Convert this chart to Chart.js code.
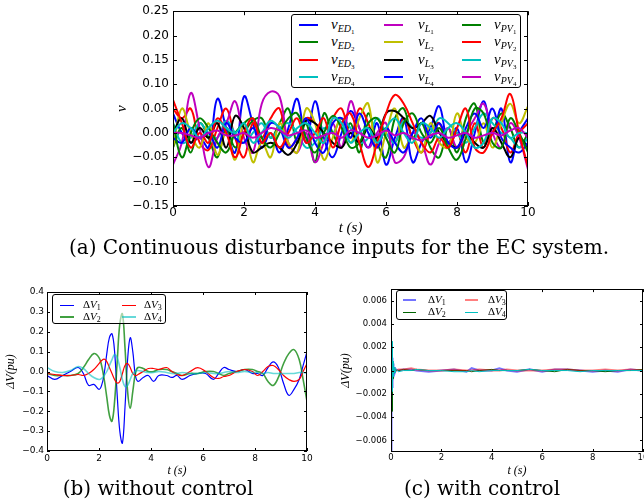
<!DOCTYPE html>
<html>
<head>
<meta charset="utf-8">
<script src="https://cdn.jsdelivr.net/npm/chart.js@4.4.0/dist/chart.umd.min.js"></script>
<style>
html, body { margin: 0; padding: 0; background: #fff; overflow: hidden; }
body { width: 644px; height: 503px; position: relative; }
canvas { position: absolute; }
.lg { position: absolute; border: 1px solid #000; border-radius: 3px; box-sizing: border-box; }
.lg .ln { position: absolute; }
.lg .tx { position: absolute; white-space: nowrap; font-family: 'Liberation Serif', serif; line-height: 16px; }
.s1 { position: relative; top: 4px; font-style: italic; }
.s2 { position: relative; top: 2px; font-style: normal; }
.cap { position: absolute; white-space: nowrap; font-family: 'DejaVu Serif', serif; font-size: 20px; line-height: 22px; transform: translateX(-50%); }
</style>
</head>
<body>
<canvas id="chartA" width="425" height="240" style="left:113px;top:0px"></canvas>
<canvas id="chartB" width="317" height="200" style="left:0px;top:280px"></canvas>
<canvas id="chartC" width="340" height="200" style="left:320px;top:280px"></canvas>
<div class="cap" style="left:339px;top:236px">(a) Continuous disturbance inputs for the EC system.</div>
<div class="cap" style="left:158px;top:477px">(b) without control</div>
<div class="cap" style="left:482px;top:477px">(c) with control</div>
<script>
// (a) 外乱入力
var tA = [0, 0.25, 0.5, 0.75, 1, 1.25, 1.5, 1.75, 2, 2.25,
  2.5, 2.75, 3, 3.25, 3.5, 3.75, 4, 4.25, 4.5, 4.75,
  5, 5.25, 5.5, 5.75, 6, 6.25, 6.5, 6.75, 7, 7.25,
  7.5, 7.75, 8, 8.25, 8.5, 8.75, 9, 9.25, 9.5, 9.75, 10];
var namesA = ['ED1', 'ED2', 'ED3', 'ED4', 'L1', 'L2', 'L3', 'L4', 'PV1', 'PV2', 'PV3', 'PV4'];
var colorsA = ['#0000ff', '#008000', '#ff0000', '#00bfbf', '#bf00bf', '#bfbf00', '#000000', '#0000ff', '#008000', '#ff0000', '#00bfbf', '#bf00bf'];

var vED1 = [0.04, 0.0, -0.02, -0.01, -0.03, 0.07, 0.01, -0.04, 0.075, 0.02,
  -0.03, 0.0, -0.04, 0.01, 0.07, -0.02, 0.065, -0.01, -0.05, 0.0,
  0.045, 0.01, -0.03, 0.02, -0.065, -0.01, 0.03, -0.06, -0.02, 0.01,
  0.055, -0.02, 0.01, -0.06, 0.0, 0.065, 0.0, 0.05, -0.06, 0.0, 0.03];
var vED2 = [-0.03, 0.01, -0.04, 0.02, -0.01, -0.05, 0.01, -0.03, 0.0, 0.025,
  0.03, -0.01, 0.02, 0.05, -0.02, 0.02, -0.06, 0.04, 0.0, -0.03,
  0.02, -0.04, 0.04, -0.02, -0.05, 0.03, 0.05, -0.01, 0.02, -0.03,
  -0.05, 0.01, -0.04, 0.03, 0.06, -0.02, 0.0, 0.04, 0.01, -0.03, 0.0];
var vED3 = [0.05, 0.03, 0.05, -0.02, -0.035, 0.01, 0.05, -0.01, -0.05, 0.02,
  -0.01, 0.03, 0.05, -0.03, -0.01, 0.03, 0.02, -0.02, 0.03, 0.05,
  -0.01, 0.05, 0.02, -0.03, 0.01, -0.02, 0.03, -0.01, -0.04, 0.0,
  0.02, -0.03, 0.0, -0.04, 0.02, -0.03, 0.03, 0.01, -0.04, 0.0, 0.02];
var vED4 = [0.02, -0.02, -0.01, 0.02, 0.0, -0.01, 0.025, 0.0, -0.02, 0.0,
  0.02, -0.01, 0.01, 0.02, 0.0, -0.03, -0.02, 0.01, 0.0, 0.03,
  0.01, -0.02, -0.01, 0.03, 0.0, -0.02, 0.025, 0.01, -0.01, 0.0,
  0.03, 0.02, 0.0, -0.02, 0.01, 0.04, 0.02, 0.0, -0.01, -0.03, -0.01];
var vL1 = [-0.065, -0.02, 0.082, 0.01, -0.07, -0.01, 0.02, 0.065, -0.01, -0.04,
  0.06, 0.085, 0.075, -0.02, -0.04, 0.0, -0.06, -0.02, 0.02, -0.03,
  0.065, 0.01, -0.03, 0.0, 0.02, -0.06, -0.05, 0.0, -0.02, -0.065,
  -0.02, 0.01, -0.03, 0.0, 0.03, 0.06, 0.0, -0.03, 0.02, -0.01, -0.075];
var vL2 = [-0.03, 0.05, 0.0, -0.03, 0.02, -0.045, 0.0, -0.055, 0.02, -0.06,
  -0.02, -0.05, 0.02, -0.02, -0.04, 0.05, 0.02, -0.055, -0.01, 0.03,
  -0.02, 0.03, 0.06, -0.06, 0.0, 0.05, -0.03, -0.01, -0.04, 0.02,
  -0.02, -0.03, 0.04, -0.01, -0.02, 0.02, -0.03, 0.02, 0.06, 0.02, 0.055];
var vL3 = [0.0, 0.03, -0.02, 0.01, -0.01, 0.02, -0.03, 0.035, 0.01, -0.04,
  -0.03, -0.02, -0.03, -0.045, -0.02, 0.025, 0.02, 0.0, -0.02, -0.03,
  0.0, -0.02, 0.01, -0.01, 0.04, 0.045, 0.03, 0.01, 0.02, 0.035,
  0.0, -0.02, -0.03, 0.0, -0.02, -0.03, 0.01, -0.02, -0.05, -0.01, -0.03];
var vL4 = [-0.01, -0.02, 0.01, -0.01, 0.0, -0.03, 0.02, -0.01, -0.02, 0.01,
  -0.02, 0.02, 0.01, -0.03, -0.01, 0.03, -0.02, -0.04, 0.02, 0.03,
  -0.01, 0.04, 0.0, -0.03, 0.01, -0.02, -0.04, 0.0, 0.03, -0.01,
  0.02, -0.02, -0.03, 0.01, 0.04, 0.01, 0.05, -0.01, -0.03, -0.04, -0.02];
var vPV1 = [0.02, -0.05, 0.0, 0.03, 0.01, -0.02, -0.04, 0.0, 0.02, 0.03,
  -0.01, -0.03, 0.0, 0.03, 0.04, -0.01, -0.04, 0.0, 0.035, 0.01,
  -0.03, -0.02, 0.02, 0.03, -0.01, -0.04, 0.02, 0.04, 0.0, -0.02,
  0.01, -0.03, -0.055, -0.01, 0.05, 0.04, -0.02, -0.03, 0.03, 0.0, -0.04];
var vPV2 = [0.068, 0.02, -0.03, 0.0, -0.02, 0.03, 0.0, -0.05, 0.0, 0.03,
  -0.02, 0.0, -0.03, 0.0, 0.03, -0.02, 0.0, 0.03, -0.03, 0.02,
  0.04, -0.02, -0.07, -0.02, 0.04, 0.078, 0.06, 0.02, -0.02, -0.04,
  -0.01, -0.03, 0.01, 0.05, -0.03, -0.04, 0.0, 0.03, 0.08, 0.0, -0.07];
var vPV3 = [0.0, 0.02, 0.01, -0.01, 0.01, 0.025, 0.01, 0.0, 0.02, -0.02,
  0.0, 0.025, 0.01, -0.01, 0.01, 0.02, 0.0, -0.02, 0.03, 0.02,
  -0.02, 0.0, 0.01, -0.02, 0.01, 0.03, 0.0, -0.02, 0.02, 0.01,
  -0.01, 0.01, 0.02, 0.0, -0.03, -0.02, 0.03, 0.02, -0.01, 0.0, 0.0];
var vPV4 = [0.0, 0.0, -0.005, -0.01, 0.0, 0.005, -0.005, -0.005, 0.0, -0.01,
  0.0, 0.01, 0.005, -0.005, 0.0, 0.005, -0.01, -0.005, 0.0, -0.01,
  0.005, 0.0, -0.01, -0.005, 0.005, -0.005, 0.0, -0.01, -0.015, -0.005,
  0.0, -0.01, -0.005, 0.0, -0.01, -0.005, 0.0, -0.005, 0.005, 0.01, -0.01];
var seriesA = [vED1, vED2, vED3, vED4, vL1, vL2, vL3, vL4, vPV1, vPV2, vPV3, vPV4];
var xTicksA = [0, 2, 4, 6, 8, 10];
var yTicksA = [-0.15, -0.10, -0.05, 0.00, 0.05, 0.10, 0.15, 0.20, 0.25];

// (b) 制御なし
var tB = [0, 0.3, 0.6, 0.9, 1.2, 1.4, 1.6, 1.8, 2.0, 2.1,
  2.2, 2.3, 2.4, 2.5, 2.6, 2.7, 2.8, 2.9, 3.0, 3.1,
  3.2, 3.3, 3.4, 3.5, 3.7, 3.9, 4.1, 4.3, 4.6, 4.8,
  5.0, 5.2, 5.5, 5.8, 6.1, 6.4, 6.6, 6.8, 7.0, 7.3,
  7.6, 7.9, 8.1, 8.3, 8.5, 8.7, 8.9, 9.1, 9.3, 9.5,
  9.7, 9.85, 10];
var dV1 = [-0.02, -0.04, -0.02, 0.0, 0.02, -0.01, -0.07, -0.065, -0.09, -0.07,
  -0.01, 0.09, 0.17, 0.19, 0.1, -0.12, -0.3, -0.36, -0.18, 0.06,
  0.17, 0.1, -0.02, -0.05, -0.03, -0.02, -0.05, -0.02, -0.02, -0.03,
  -0.02, -0.04, -0.02, -0.01, -0.01, -0.04, -0.01, 0.02, 0.01, 0.0,
  0.01, -0.01, -0.01, -0.02, 0.02, 0.048, 0.02, -0.06, -0.12, -0.09,
  -0.04, 0.03, 0.1];
var dV2 = [-0.01, -0.02, -0.02, -0.02, -0.01, 0.02, 0.06, 0.09, 0.07, 0.03,
  -0.04, -0.13, -0.22, -0.25, -0.15, 0.05, 0.24, 0.29, 0.12, -0.1,
  -0.185, -0.1, -0.01, 0.02, 0.015, 0.0, 0.0, 0.01, 0.01, 0.0,
  -0.01, -0.02, -0.01, -0.01, 0.0, 0.0, -0.01, -0.02, -0.01, 0.0,
  0.01, 0.01, 0.0, -0.01, -0.05, -0.07, -0.03, 0.04, 0.09, 0.11,
  0.06, -0.04, -0.15];
var dV3 = [-0.01, -0.015, -0.02, -0.02, -0.015, -0.02, -0.01, 0.01, 0.04, 0.055,
  0.062, 0.05, 0.02, -0.01, -0.04, -0.058, -0.05, -0.01, 0.03, 0.04,
  0.02, -0.01, -0.02, -0.015, 0.0, 0.015, 0.015, 0.01, 0.02, 0.0,
  -0.015, -0.02, 0.0, 0.02, 0.0, -0.03, -0.035, -0.025, -0.02, 0.0,
  0.01, 0.0, -0.02, 0.0, 0.025, 0.03, 0.01, -0.02, -0.04, -0.05,
  -0.04, 0.0, 0.04];
var dV4 = [0.02, 0.0, -0.005, 0.005, 0.025, 0.015, -0.01, -0.03, -0.04, -0.035,
  -0.02, 0.0, 0.03, 0.06, 0.085, 0.07, 0.02, -0.04, -0.075, -0.07,
  -0.04, -0.01, 0.0, 0.005, 0.0, -0.005, -0.005, 0.0, -0.005, -0.01,
  -0.01, -0.005, -0.01, -0.01, -0.005, -0.01, -0.01, -0.005, 0.0, -0.005,
  0.0, -0.005, -0.005, -0.01, -0.005, -0.01, -0.01, -0.01, -0.01, -0.01,
  -0.005, -0.005, -0.01];
var xTicksB = [0, 2, 4, 6, 8, 10];
var yTicksB = [-0.4, -0.3, -0.2, -0.1, 0.0, 0.1, 0.2, 0.3, 0.4];

// (c) 制御あり
var tC = [0, 0.01, 0.02, 0.03, 0.04, 0.05, 0.06, 0.07, 0.08, 0.1,
  0.12, 0.15, 0.2, 0.3, 0.5, 0.8, 1.0, 1.5, 2.0, 2.5,
  3.0, 3.2, 3.5, 4.0, 4.3, 4.6, 5.0, 5.5, 6.0, 6.5,
  7.0, 7.5, 8.0, 8.5, 9.0, 9.5, 10];
var cV1 = [0.0, -0.007, 0.0012, -0.003, 0.0008, -0.0015, 0.0011, -0.001, 0.0006, -0.0005,
  0.0003, -0.0002, 0.0001, 0.0, 0.0001, 0.0001, 0.0, -0.0001, 0.0, 0.0001,
  -0.0001, 0.0002, 0.0, 0.0, 0.0002, 0.0, -0.0001, 0.0001, -0.0001, 0.0001,
  0.0001, 0.0, -0.0001, 0.0, -0.0001, 0.0001, 0.0];
var cV2 = [0.0, 0.0055, -0.006, 0.003, -0.0035, 0.0015, -0.0015, 0.0008, -0.0007, 0.0003,
  -0.0002, 0.0001, 0.0, 0.0, 0.0001, 0.0, 0.0001, 0.0, 0.0, 0.0,
  0.0, -0.0001, 0.0, 0.0001, 0.0, 0.0, 0.0, 0.0001, 0.0, -0.0001,
  0.0001, 0.0, 0.0, -0.0001, 0.0, 0.0, 0.0001];
var cV3 = [0.0, 0.001, -0.0008, 0.0006, -0.0004, 0.0003, -0.0002, 0.0001, 0.0, 0.0001,
  0.0, 0.0001, 0.0, 0.0001, 0.0001, 0.0002, 0.0001, 0.0, 0.0, 0.0001,
  0.0, 0.0, 0.0001, 0.0, 0.0, 0.0001, 0.0, 0.0, 0.0, 0.0001,
  0.0001, 0.0, 0.0, 0.0001, 0.0, 0.0001, 0.0];
var cV4 = [0.0, -0.005, 0.0045, -0.003, 0.0025, -0.0018, 0.0013, -0.001, 0.0008, -0.0005,
  0.0003, -0.0002, 0.0001, -0.0001, 0.0, 0.0, 0.0001, 0.0, 0.0, -0.0001,
  -0.0001, 0.0, -0.0001, 0.0, 0.0, 0.0, 0.0, 0.0001, 0.0, 0.0,
  0.0, -0.0001, 0.0, 0.0, 0.0, 0.0, 0.0];
var xTicksC = [0, 2, 4, 6, 8, 10];
var yTicksC = [-0.006, -0.004, -0.002, 0.0, 0.002, 0.004, 0.006];

var namesB = ['1', '2', '3', '4'];

// 枠と内向きの目盛り (matplotlib classic 風)
var framePlugin = {
  id: 'frame',
  afterDatasetsDraw: function (chart, args, opts) {
    var a = chart.chartArea, ctx = chart.ctx, len = opts.len || 4;
    var sx = chart.scales.x, sy = chart.scales.y;
    ctx.save();
    ctx.strokeStyle = '#000';
    ctx.lineWidth = 1;
    ctx.strokeRect(Math.round(a.left) + 0.5, Math.round(a.top) + 0.5,
      Math.round(a.right - a.left) - 1, Math.round(a.bottom - a.top) - 1);
    ctx.beginPath();
    sx.ticks.forEach(function (t) {
      var x = Math.round(sx.getPixelForValue(t.value)) + 0.5;
      ctx.moveTo(x, a.bottom); ctx.lineTo(x, a.bottom - len);
      ctx.moveTo(x, a.top); ctx.lineTo(x, a.top + len);
    });
    sy.ticks.forEach(function (t) {
      var y = Math.round(sy.getPixelForValue(t.value)) + 0.5;
      ctx.moveTo(a.left, y); ctx.lineTo(a.left + len, y);
      ctx.moveTo(a.right, y); ctx.lineTo(a.right - len, y);
    });
    ctx.stroke();
    ctx.restore();
  }
};

function fmt(v, d) {
  var s = Number(v).toFixed(d);
  if (Math.abs(v) < 1e-12) s = (0).toFixed(d);
  return s.replace('-', '\u2212');
}

function pts(ts, vs) {
  return ts.map(function (t, i) { return { x: t, y: vs[i] }; });
}

function makeOptions(o) {
  return {
    responsive: false,
    animation: false,
    devicePixelRatio: 1,
    layout: { padding: o.padding },
    plugins: { legend: { display: false }, tooltip: { enabled: false }, frame: { len: o.tickLen } },
    elements: { point: { radius: 0 } },
    scales: {
      x: {
        type: 'linear', min: 0, max: 10,
        afterBuildTicks: function (s) { s.ticks = o.xTicks.map(function (v) { return { value: v }; }); },
        afterFit: function (s) { s.height = o.xHeight; },
        grid: { display: false, drawTicks: false, tickLength: 0 }, border: { display: false },
        ticks: { autoSkip: false, maxRotation: 0, padding: o.xPad, color: '#000',
          font: { family: 'DejaVu Sans', size: o.tickSize },
          callback: function (v) { return String(v); } },
        title: { display: true, text: 't (s)', color: '#000',
          font: { family: 'Liberation Serif', style: 'italic', size: o.titleSize, lineHeight: 1.2 },
          padding: { top: 0, bottom: o.xTitlePad } }
      },
      y: {
        type: 'linear', min: o.yMin, max: o.yMax,
        afterBuildTicks: function (s) { s.ticks = o.yTicks.map(function (v) { return { value: v }; }); },
        afterFit: function (s) { s.width = o.yWidth; },
        grid: { display: false, drawTicks: false, tickLength: 0 }, border: { display: false },
        ticks: { autoSkip: false, padding: o.yPad, color: '#000',
          font: { family: 'DejaVu Sans', size: o.tickSize },
          callback: function (v) { return fmt(v, o.dec); } },
        title: { display: true, text: o.yTitle, color: '#000',
          font: { family: 'Liberation Serif', style: 'italic', size: o.titleSize, lineHeight: 1.2 },
          padding: { top: o.yTitlePad, bottom: 0 } }
      }
    }
  };
}

// (a)
new Chart(document.getElementById('chartA'), {
  type: 'line',
  data: {
    datasets: seriesA.map(function (vals, i) {
      return { label: namesA[i], data: pts(tA, vals), borderColor: colorsA[i],
        borderWidth: 2, tension: 0.4, fill: false, order: seriesA.length - i };
    })
  },
  options: makeOptions({ padding: { top: 11, right: 10, bottom: 0, left: 0 },
    xTicks: xTicksA, yTicks: yTicksA, yMin: -0.15, yMax: 0.25, dec: 2,
    xHeight: 34, yWidth: 60, xPad: 0, yPad: 4, tickSize: 12, titleSize: 15,
    xTitlePad: 3, yTitlePad: 0, yTitle: 'v', tickLen: 4 }),
  plugins: [framePlugin]
});

// (b)
var stylesB = [
  { c: '#0000ff', w: 1.2 }, { c: 'rgba(0,128,0,0.75)', w: 1.6 },
  { c: '#ff0000', w: 1.2 }, { c: 'rgba(0,191,191,0.6)', w: 1.6 }];
new Chart(document.getElementById('chartB'), {
  type: 'line',
  data: {
    datasets: [dV1, dV2, dV3, dV4].map(function (vals, i) {
      return { label: 'dV' + namesB[i], data: pts(tB, vals), borderColor: stylesB[i].c,
        borderWidth: stylesB[i].w, tension: 0.4, fill: false, order: 4 - i };
    })
  },
  options: makeOptions({ padding: { top: 12, right: 10, bottom: 0, left: 0 },
    xTicks: xTicksB, yTicks: yTicksB, yMin: -0.4, yMax: 0.4, dec: 1,
    xHeight: 29, yWidth: 47, xPad: 2, yPad: 3, tickSize: 9, titleSize: 12,
    xTitlePad: 2, yTitlePad: 4, yTitle: '\u0394V(pu)', tickLen: 3 }),
  plugins: [framePlugin]
});

// (c)
var stylesC = [
  { c: 'rgba(0,0,255,0.55)', w: 2 }, { c: '#006400', w: 1 },
  { c: 'rgba(255,0,0,0.5)', w: 2 }, { c: '#00bfbf', w: 1 }];
new Chart(document.getElementById('chartC'), {
  type: 'line',
  data: {
    datasets: [cV1, cV2, cV3, cV4].map(function (vals, i) {
      return { label: 'cV' + namesB[i], data: pts(tC, vals), borderColor: stylesC[i].c,
        borderWidth: stylesC[i].w, tension: 0, fill: false, order: 4 - i };
    })
  },
  options: makeOptions({ padding: { top: 7, right: 17, bottom: 0, left: 0 },
    xTicks: xTicksC, yTicks: yTicksC, yMin: -0.007, yMax: 0.007, dec: 3,
    xHeight: 28, yWidth: 71, xPad: 1, yPad: 4, tickSize: 8.5, titleSize: 12,
    xTitlePad: 2, yTitlePad: 19, yTitle: '\u0394V(pu)', tickLen: 3 }),
  plugins: [framePlugin]
});

// 凡例 (HTML)
function legendBox(box, items) {
  var d = document.createElement('div');
  d.className = 'lg';
  d.style.left = box.left + 'px'; d.style.top = box.top + 'px';
  d.style.width = box.width + 'px'; d.style.height = box.height + 'px';
  d.style.background = box.bg;
  items.forEach(function (it) {
    var ln = document.createElement('div');
    ln.className = 'ln';
    ln.style.left = it.lx + 'px'; ln.style.width = it.lw + 'px';
    ln.style.top = (it.y - it.th / 2) + 'px'; ln.style.height = it.th + 'px';
    ln.style.background = it.color;
    d.appendChild(ln);
    var tx = document.createElement('div');
    tx.className = 'tx';
    tx.style.left = it.tx + 'px'; tx.style.top = (it.y - 9) + 'px';
    tx.style.fontSize = it.fs + 'px';
    tx.innerHTML = it.html;
    d.appendChild(tx);
  });
  document.body.appendChild(d);
}

var colLineA = [7, 92, 170], colTextA = [39, 126, 202], rowA = [10, 27.3, 44.5, 61.7];
legendBox({ left: 291, top: 14, width: 230, height: 74, bg: '#fff' },
  namesA.map(function (n, i) {
    var c = Math.floor(i / 4), r = i % 4;
    var m = n.match(/^([A-Z]+)(\d)$/);
    return { lx: colLineA[c], lw: 19, th: 2, y: rowA[r], color: colorsA[i], tx: colTextA[c], fs: 15,
      html: '<i>v</i><span class="s1" style="font-size:10px;top:3px">' + m[1] +
        '<span class="s2" style="font-size:7px">' + m[2] + '</span></span>' };
  }));

var colLineB = [7, 69], colTextB = [30, 91], rowB = [10, 22];
legendBox({ left: 52, top: 294, width: 114, height: 30, bg: 'rgba(255,255,255,0.55)' },
  namesB.map(function (n, i) {
    var c = Math.floor(i / 2), r = i % 2;
    return { lx: colLineB[c], lw: 14, th: stylesB[i].w < 1.5 ? 1 : 2, y: rowB[r], color: stylesB[i].c,
      tx: colTextB[c], fs: 11,
      html: '\u0394<i>V</i><span class="s2" style="font-size:8px;top:2px">' + n + '</span>' };
  }));

var colLineC = [6, 68], colTextC = [31, 91], rowC = [8.5, 21];
legendBox({ left: 396, top: 290, width: 111, height: 30, bg: '#fff' },
  namesB.map(function (n, i) {
    var c = Math.floor(i / 2), r = i % 2;
    return { lx: colLineC[c], lw: 13, th: stylesC[i].w, y: rowC[r], color: stylesC[i].c,
      tx: colTextC[c], fs: 11,
      html: '\u0394<i>V</i><span class="s2" style="font-size:8px;top:2px">' + n + '</span>' };
  }));
</script>
</body>
</html>
